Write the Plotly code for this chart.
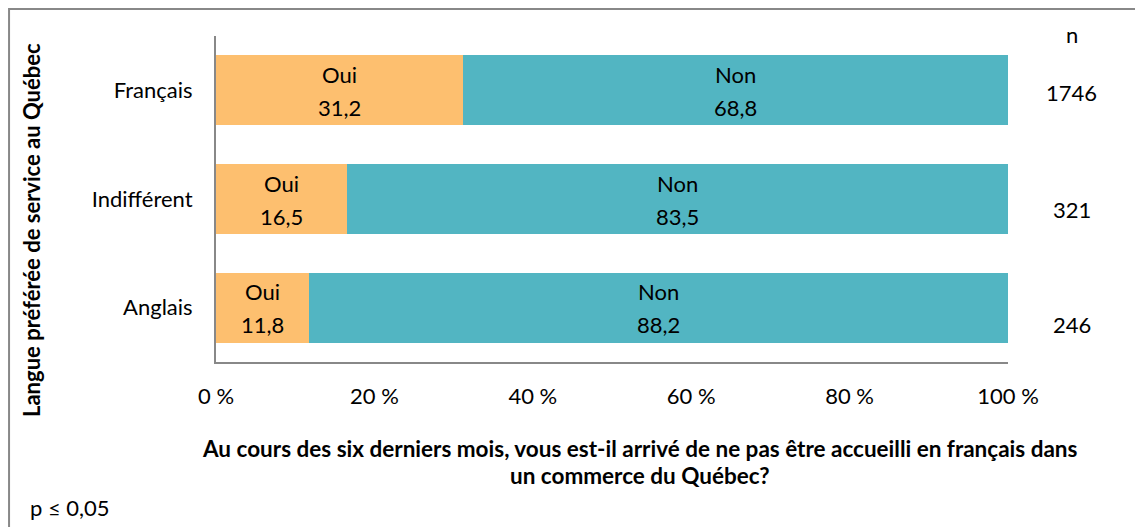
import plotly.graph_objects as go

categories = ["Français", "Indifférent", "Anglais"]
oui = [31.2, 16.5, 11.8]
non = [68.8, 83.5, 88.2]
n_values = ["1746", "321", "246"]
n_shift = [-2, -10, -17]
tick_vals = [0, 20, 40, 60, 80, 100]
tick_text = ["0 %", "20 %", "40 %", "60 %", "80 %", "100 %"]

ORANGE = "#FDBF6F"
TEAL = "#52B5C2"
AXIS = "#888888"
FONT = "Lato"
FS = 22

fig = go.Figure()
fig.add_trace(go.Bar(y=categories, x=oui, orientation="h", marker=dict(color=ORANGE, line=dict(width=0)),
                     name="Oui", hoverinfo="x+y"))
fig.add_trace(go.Bar(y=categories, x=non, orientation="h", marker=dict(color=TEAL, line=dict(width=0)),
                     name="Non", hoverinfo="x+y"))

def fmt(v):
    return f"{v:.1f}".replace(".", ",")

def txt(size=FS, **kw):
    d = dict(showarrow=False, xanchor="center", yanchor="middle",
             font=dict(size=size, color="black", family=FONT))
    d.update(kw)
    return d

ann = []
for c, o, nn, nv, sh in zip(categories, oui, non, n_values, n_shift):
    for label, mid, val in (("Oui", o / 2, o), ("Non", o + nn / 2, nn)):
        ann.append(txt(x=mid, y=c, xref="x", yref="y", text=label, yshift=16))
        ann.append(txt(x=mid, y=c, xref="x", yref="y", text=fmt(val), yshift=-17))
    ann.append(txt(x=1.0808, y=c, xref="paper", yref="y", text=nv, yshift=sh))

ann.append(txt(x=1.0808, y=1.006, xref="paper", yref="paper", text="n"))
ann.append(txt(x=-0.2323, y=0.405, xref="paper", yref="paper",
               text="<b>Langue préférée de service au Québec</b>", textangle=-90))
ann.append(txt(size=22.5, x=0.5354, y=-0.264, xref="paper", yref="paper",
               text="<b>Au cours des six derniers mois, vous est-il arrivé de ne pas être accueilli en français dans</b>"))
ann.append(txt(size=22.5, x=0.5354, y=-0.349, xref="paper", yref="paper", text="<b>un commerce du Québec?</b>"))
ann.append(txt(x=-0.2374, y=-0.445, xref="paper", yref="paper", text="p ≤ 0,05", xanchor="left"))

fig.update_layout(
    width=1135, height=519,
    margin=dict(l=208, r=135, t=28, b=165),
    barmode="stack", bargap=0.355,
    showlegend=False,
    plot_bgcolor="white", paper_bgcolor="white",
    font=dict(family=FONT, size=FS, color="black"),
    annotations=ann,
    shapes=[dict(type="rect", xref="paper", yref="paper", x0=-0.2613, x1=1.2, y0=-0.6, y1=1.0828,
                 line=dict(color=AXIS, width=2), fillcolor="rgba(0,0,0,0)", layer="below")],
)
fig.update_xaxes(range=[0, 100], tickvals=tick_vals, ticktext=tick_text, showgrid=False, zeroline=False,
                 showline=True, linecolor=AXIS, linewidth=2, ticks="", ticklabelstandoff=14,
                 tickfont=dict(size=FS, family=FONT, color="black"))
fig.update_yaxes(categoryorder="array", categoryarray=categories, autorange="reversed",
                 showgrid=False, zeroline=False, showline=True, linecolor=AXIS, linewidth=2,
                 ticks="", ticklabelstandoff=17, tickfont=dict(size=FS, family=FONT, color="black"))

fig.write_html("out.html")
